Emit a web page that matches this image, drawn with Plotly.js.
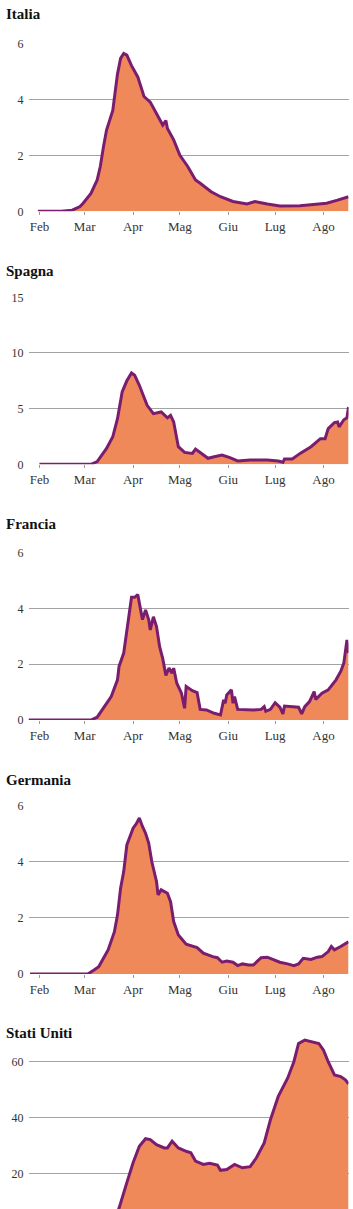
<!DOCTYPE html>
<html>
<head>
<meta charset="utf-8">
<script src="https://cdn.plot.ly/plotly-3.0.1.min.js"></script>
<style>
  html, body { margin: 0; padding: 0; background: #fff; }
  #wrap { width: 353px; height: 1209px; overflow: hidden; position: relative; }
  #chart { width: 353px; height: 1250px; }
</style>
</head>
<body>
<div id="wrap"><div id="chart"></div></div>
<script>
// ---------------- DATA ----------------
const monthTicks = ['2020-02-01','2020-03-01','2020-04-01','2020-05-01','2020-06-01','2020-07-01','2020-08-01'];
const monthLabels = ['Feb','Mar','Apr','Mag','Giu','Lug','Ago'];

const countryNames = ['Italia','Spagna','Francia','Germania','Stati Uniti'];

const italiaDates = ['2020-01-31','2020-02-15','2020-02-22','2020-02-27','2020-02-29','2020-03-05','2020-03-09','2020-03-11','2020-03-13','2020-03-15','2020-03-19','2020-03-22','2020-03-24','2020-03-26','2020-03-28','2020-03-31','2020-04-04','2020-04-08','2020-04-12','2020-04-15','2020-04-20','2020-04-22','2020-04-23','2020-04-27','2020-05-01','2020-05-06','2020-05-11','2020-05-14','2020-05-21','2020-05-27','2020-06-04','2020-06-13','2020-06-18','2020-06-26','2020-07-04','2020-07-17','2020-07-26','2020-08-03','2020-08-10','2020-08-17'];
const italiaValues = [0,0,0.04,0.17,0.29,0.64,1.12,1.6,2.3,2.9,3.6,4.9,5.46,5.64,5.58,5.2,4.8,4.1,3.9,3.6,3.08,3.24,2.96,2.55,2.0,1.6,1.12,1.0,0.7,0.52,0.35,0.26,0.35,0.26,0.19,0.2,0.26,0.29,0.4,0.52];

const spagnaDates = ['2020-02-01','2020-03-05','2020-03-09','2020-03-12','2020-03-15','2020-03-19','2020-03-22','2020-03-25','2020-03-28','2020-03-31','2020-04-02','2020-04-05','2020-04-10','2020-04-14','2020-04-19','2020-04-23','2020-04-25','2020-04-27','2020-04-30','2020-05-04','2020-05-09','2020-05-11','2020-05-16','2020-05-19','2020-05-23','2020-05-28','2020-06-02','2020-06-07','2020-06-15','2020-06-26','2020-07-03','2020-07-06','2020-07-07','2020-07-12','2020-07-17','2020-07-24','2020-07-30','2020-08-02','2020-08-04','2020-08-08','2020-08-10','2020-08-11','2020-08-14','2020-08-16','2020-08-17'];
const spagnaValues = [0,0,0.24,0.83,1.43,2.47,4.1,6.5,7.5,8.2,8.0,7.1,5.3,4.55,4.7,4.17,4.4,3.8,1.58,1.07,0.98,1.37,0.9,0.54,0.68,0.83,0.6,0.3,0.39,0.39,0.3,0.18,0.48,0.48,0.98,1.58,2.3,2.3,3.2,3.75,3.8,3.36,4.0,4.17,5.15];

const franciaDates = ['2020-01-25','2020-03-05','2020-03-09','2020-03-13','2020-03-18','2020-03-22','2020-03-23','2020-03-26','2020-03-28','2020-03-30','2020-03-31','2020-04-02','2020-04-04','2020-04-05','2020-04-07','2020-04-09','2020-04-11','2020-04-12','2020-04-14','2020-04-16','2020-04-18','2020-04-20','2020-04-22','2020-04-24','2020-04-26','2020-04-27','2020-04-29','2020-05-02','2020-05-04','2020-05-05','2020-05-09','2020-05-12','2020-05-14','2020-05-18','2020-05-23','2020-05-27','2020-05-29','2020-05-30','2020-05-31','2020-06-03','2020-06-04','2020-06-05','2020-06-07','2020-06-17','2020-06-22','2020-06-24','2020-06-25','2020-06-28','2020-07-01','2020-07-04','2020-07-06','2020-07-07','2020-07-16','2020-07-18','2020-07-20','2020-07-23','2020-07-26','2020-07-27','2020-07-31','2020-08-04','2020-08-09','2020-08-12','2020-08-14','2020-08-16','2020-08-17'];
const franciaValues = [0,0,0.1,0.42,0.84,1.44,1.92,2.4,3.23,3.95,4.4,4.4,4.5,4.2,3.6,3.95,3.6,3.23,3.7,3.35,2.63,2.2,1.6,1.86,1.68,1.86,1.32,0.96,0.42,1.2,1.05,0.98,0.38,0.36,0.24,0.18,0.72,0.6,0.9,1.08,0.6,0.84,0.38,0.36,0.38,0.48,0.31,0.38,0.62,0.46,0.22,0.5,0.46,0.22,0.48,0.66,1.02,0.74,0.96,1.08,1.44,1.74,2.04,2.87,2.4];

const germaniaDates = ['2020-01-26','2020-03-03','2020-03-07','2020-03-10','2020-03-13','2020-03-16','2020-03-20','2020-03-22','2020-03-24','2020-03-26','2020-03-28','2020-03-30','2020-04-01','2020-04-03','2020-04-05','2020-04-07','2020-04-09','2020-04-11','2020-04-13','2020-04-16','2020-04-17','2020-04-19','2020-04-23','2020-04-25','2020-04-27','2020-04-30','2020-05-05','2020-05-12','2020-05-16','2020-05-22','2020-05-25','2020-05-28','2020-05-31','2020-06-04','2020-06-07','2020-06-10','2020-06-14','2020-06-17','2020-06-22','2020-06-26','2020-06-30','2020-07-04','2020-07-09','2020-07-13','2020-07-16','2020-07-19','2020-07-24','2020-07-28','2020-07-31','2020-08-04','2020-08-06','2020-08-08','2020-08-12','2020-08-17'];
const germaniaValues = [0,0,0.14,0.26,0.56,0.86,1.5,2.1,3.06,3.65,4.6,4.9,5.2,5.35,5.56,5.26,5.02,4.67,4.0,3.3,2.82,3.0,2.88,2.58,1.87,1.39,1.06,0.94,0.74,0.62,0.58,0.42,0.46,0.42,0.3,0.36,0.32,0.32,0.58,0.6,0.5,0.42,0.36,0.3,0.36,0.56,0.52,0.6,0.62,0.8,0.98,0.86,0.98,1.15];

const usaDates = ['2020-02-01','2020-03-10','2020-03-18','2020-03-23','2020-03-28','2020-04-01','2020-04-05','2020-04-09','2020-04-12','2020-04-16','2020-04-21','2020-04-23','2020-04-26','2020-04-30','2020-05-05','2020-05-08','2020-05-11','2020-05-16','2020-05-20','2020-05-25','2020-05-27','2020-05-31','2020-06-05','2020-06-10','2020-06-15','2020-06-19','2020-06-24','2020-06-28','2020-07-03','2020-07-07','2020-07-09','2020-07-13','2020-07-16','2020-07-20','2020-07-25','2020-07-29','2020-08-01','2020-08-04','2020-08-08','2020-08-12','2020-08-15','2020-08-17'];
const usaValues = [0,0,0.4,7.7,16.8,23.9,29.8,32.5,32.2,30.4,29.2,29.2,31.6,29.2,28.0,27.5,24.5,23.3,23.7,23.1,21.2,21.5,23.3,22.1,22.5,25.7,31,39.3,47.6,51.7,54.1,60,66.5,67.7,67.1,66.5,64.1,60,55.3,54.7,53.5,52.1];

const yTickValues = [[0,2,4,6],[0,5,10,15],[0,2,4,6],[0,2,4,6],[20,40,60]];

// ---------------- LAYOUT ----------------
const W = 353, H = 1250;
const FILL = '#F0895A', LINE = '#7B1D6F', GRID = '#a3a3a3';
const SERIF = '"Liberation Serif", "DejaVu Serif", serif';

const series = [
  {dates: italiaDates, values: italiaValues},
  {dates: spagnaDates, values: spagnaValues},
  {dates: franciaDates, values: franciaValues},
  {dates: germaniaDates, values: germaniaValues},
  {dates: usaDates, values: usaValues}
];
// pixel geometry of each panel: top of range, zero line, y-range max, title centre
const geom = [
  {top: 43.3, bottom: 211.3, ymax: 6, titleY: 14, xlabels: true},
  {top: 297.3, bottom: 464.3, ymax: 15, titleY: 271.5, xlabels: true},
  {top: 552.7, bottom: 720, ymax: 6, titleY: 524, xlabels: true},
  {top: 805.7, bottom: 974, ymax: 6, titleY: 780, xlabels: true},
  {top: 1033.7, bottom: 1229.7, ymax: 70, titleY: 1033, xlabels: false}
];

const xDom = [28.5 / W, 348.5 / W];
const traces = [];
const layout = {
  width: W, height: H,
  margin: {l: 0, r: 0, t: 0, b: 0},
  paper_bgcolor: '#fff', plot_bgcolor: '#fff',
  showlegend: false,
  font: {family: SERIF, color: '#333'},
  annotations: []
};

series.forEach((s, i) => {
  const n = i === 0 ? '' : String(i + 1);
  const g = geom[i];
  traces.push({
    type: 'scatter', mode: 'lines',
    x: s.dates, y: s.values,
    xaxis: 'x' + n, yaxis: 'y' + n,
    fill: 'tozeroy', fillcolor: FILL,
    line: {color: LINE, width: 3, shape: 'linear'},
    hoverinfo: 'skip'
  });
  layout['xaxis' + n] = {
    domain: xDom, anchor: 'y' + n, type: 'date',
    range: ['2020-01-25', '2020-08-17'],
    tickmode: 'array', tickvals: monthTicks, ticktext: monthLabels,
    showticklabels: g.xlabels,
    showgrid: false, zeroline: false, showline: false,
    ticks: g.xlabels ? 'outside' : '', ticklen: 3, tickcolor: '#999', tickwidth: 1,
    tickfont: {family: SERIF, size: 13, color: '#333'},
    fixedrange: true
  };
  layout['yaxis' + n] = {
    domain: [(H - g.bottom) / H, (H - g.top) / H], anchor: 'x' + n,
    range: [0, g.ymax],
    tickmode: 'array', tickvals: yTickValues[i],
    showgrid: true, gridcolor: GRID, gridwidth: 1,
    zeroline: false, showline: false, ticks: '',
    tickfont: {family: SERIF, size: 12, color: '#333'},
    ticklabelstandoff: 4,
    fixedrange: true
  };
  layout.annotations.push({
    xref: 'paper', yref: 'paper',
    x: 4 / W, y: (H - g.titleY) / H,
    xanchor: 'left', yanchor: 'middle',
    text: '<b>' + countryNames[i] + '</b>',
    showarrow: false,
    font: {family: SERIF, size: 15, color: '#111'}
  });
});

Plotly.newPlot('chart', traces, layout, {displayModeBar: false, staticPlot: true});
</script>
</body>
</html>
